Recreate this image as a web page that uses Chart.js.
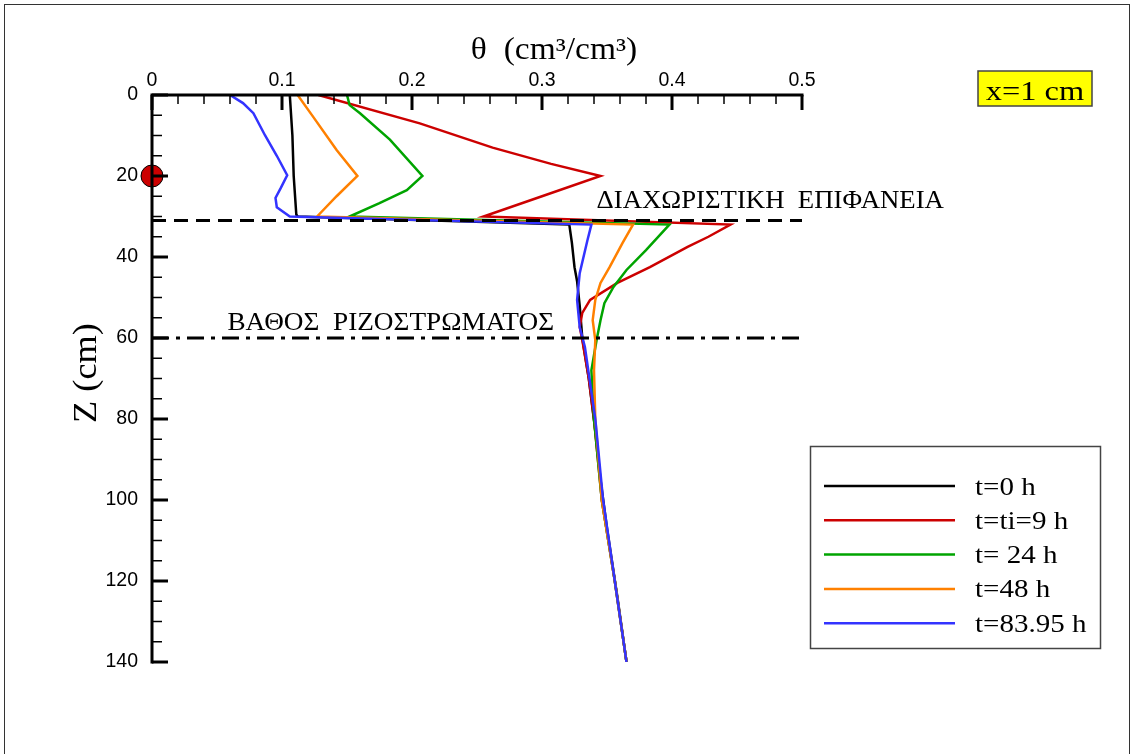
<!DOCTYPE html>
<html>
<head>
<meta charset="utf-8">
<script src="https://cdn.jsdelivr.net/npm/chart.js@4.4.1/dist/chart.umd.min.js"></script>
<style>
    html, body { margin: 0; padding: 0; background: #fff; }
    #wrap { width: 1132px; height: 754px; position: relative; }
</style>
</head>
<body>
<div id="wrap"><canvas id="thetaChart"></canvas></div>
<script>
// profiles of theta (cm3/cm3) against depth Z (cm), x = 1 cm
const seriesLabels = ["t=0 h", "t=ti=9 h", "t= 24 h", "t=48 h", "t=83.95 h"];
const seriesColors = ["#000000", "#cc0000", "#00a400", "#ff8000", "#3333ff"];

const depthT0 = [0, 10, 20, 29.5, 30, 32, 36.5, 42.5, 46, 52, 60, 70, 83, 95, 107, 124, 140];
const thetaT0 = [0.106, 0.108, 0.109, 0.111, 0.112, 0.321, 0.323, 0.325, 0.327, 0.329, 0.331, 0.336, 0.341, 0.345, 0.350, 0.358, 0.365];

const depthT9 = [0, 7, 13, 17, 20, 25, 30, 32, 35, 37.5, 42.5, 46.4, 50.6, 53.8, 57.3, 60.5, 70, 80, 100, 120, 140];
const thetaT9 = [0.128, 0.206, 0.262, 0.307, 0.345, 0.300, 0.255, 0.445, 0.428, 0.412, 0.383, 0.358, 0.337, 0.331, 0.329, 0.331, 0.336, 0.340, 0.346, 0.356, 0.365];

const depthT24 = [0, 2.5, 4.5, 11, 20, 23.5, 26.7, 30, 32, 38.3, 43.2, 47.4, 51.4, 55.6, 60.5, 68, 80, 100, 120, 140];
const thetaT24 = [0.150, 0.152, 0.160, 0.183, 0.208, 0.196, 0.175, 0.152, 0.398, 0.380, 0.365, 0.355, 0.348, 0.345, 0.342, 0.338, 0.340, 0.346, 0.356, 0.365];

const depthT48 = [0, 5.4, 13.6, 20, 25, 30, 32, 36.5, 42.5, 46.4, 50.6, 55.6, 60.5, 68, 80, 100, 120, 140];
const thetaT48 = [0.112, 0.124, 0.142, 0.158, 0.142, 0.127, 0.370, 0.362, 0.352, 0.345, 0.341, 0.339, 0.341, 0.340, 0.341, 0.346, 0.356, 0.365];

const depthT84 = [0, 2, 4.5, 10, 15, 19.8, 23, 25.4, 27.7, 30, 32, 35.8, 44, 50.6, 57.3, 62.2, 80, 100, 120, 140];
const thetaT84 = [0.060, 0.070, 0.078, 0.087, 0.096, 0.104, 0.099, 0.095, 0.096, 0.106, 0.338, 0.335, 0.329, 0.327, 0.329, 0.333, 0.341, 0.347, 0.356, 0.365];

const thetaTicks = [0, 0.1, 0.2, 0.3, 0.4, 0.5];
const depthTicks = [0, 20, 40, 60, 80, 100, 120, 140];

const interfaceDepth = 31;  // ΔΙΑΧΩΡΙΣΤΙΚΗ ΕΠΙΦΑΝΕΙΑ
const rootDepth = 60;       // ΒΑΘΟΣ ΡΙΖΟΣΤΡΩΜΑΤΟΣ
const sourceDepth = 20;     // red marker on the axis

const serif = '"Liberation Serif", "Times New Roman", serif';
const sans = '"Liberation Sans", Arial, sans-serif';

function toPoints(depths, thetas) {
    return depths.map((z, i) => ({ x: thetas[i], y: z }));
}

const profiles = [
    toPoints(depthT0, thetaT0),
    toPoints(depthT9, thetaT9),
    toPoints(depthT24, thetaT24),
    toPoints(depthT48, thetaT48),
    toPoints(depthT84, thetaT84)
];

const datasets = profiles.map((pts, i) => ({
    label: seriesLabels[i],
    data: pts,
    showLine: true,
    borderColor: seriesColors[i],
    borderWidth: 2.5,
    pointRadius: 0,
    tension: 0,
    order: 5 - i  // later curves on top, like the original
}));

// horizontal reference lines
datasets.push({
    label: "interface",
    data: [{ x: thetaTicks[0], y: interfaceDepth }, { x: thetaTicks[thetaTicks.length - 1], y: interfaceDepth }],
    showLine: true, borderColor: "#000", borderWidth: 3, borderDash: [14, 8], pointRadius: 0, order: 0
});
datasets.push({
    label: "root zone",
    data: [{ x: thetaTicks[0], y: rootDepth }, { x: thetaTicks[thetaTicks.length - 1], y: rootDepth }],
    showLine: true, borderColor: "#000", borderWidth: 3, borderDash: [17, 7, 4, 7], pointRadius: 0, order: 0
});
datasets.push({
    label: "source",
    data: [{ x: 0, y: sourceDepth }],
    showLine: false, pointRadius: 11, pointBackgroundColor: "#cc0000",
    pointBorderColor: "#000", pointBorderWidth: 1, clip: false, order: -1
});

// the original's Times text is a bit wider than Liberation Serif, so stretch it
function wideText(ctx, text, x, y, sx) {
    ctx.save();
    ctx.translate(x, y);
    ctx.scale(sx, 1);
    ctx.fillText(text, 0, 0);
    ctx.restore();
}

const decorPlugin = {
    id: 'decor',
    afterDatasetsDraw(chart) {
        const ctx = chart.ctx;
        const xs = chart.scales.x, ys = chart.scales.y;
        const area = chart.chartArea;
        ctx.save();
        ctx.strokeStyle = "#000";

        // axis lines (top and left only)
        ctx.lineWidth = 3;
        ctx.beginPath();
        ctx.moveTo(area.left - 1.5, area.top);
        ctx.lineTo(area.right + 1.5, area.top);
        ctx.moveTo(area.left, area.top);
        ctx.lineTo(area.left, area.bottom + 1.5);
        ctx.stroke();

        // inward ticks, minor every 0.02 and every 5 cm
        for (let k = 0; k <= 25; k++) {
            const px = xs.getPixelForValue(k * 0.02);
            const major = k % 5 === 0;
            ctx.lineWidth = major ? 3 : 1.5;
            ctx.beginPath();
            ctx.moveTo(px, area.top);
            ctx.lineTo(px, area.top + (major ? 15 : 9));
            ctx.stroke();
        }
        for (let z = 0; z <= 140; z += 5) {
            const py = ys.getPixelForValue(z);
            const major = z % 20 === 0;
            ctx.lineWidth = major ? 3 : 1.5;
            ctx.beginPath();
            ctx.moveTo(area.left, py);
            ctx.lineTo(area.left + (major ? 16 : 10), py);
            ctx.stroke();
        }
        ctx.restore();
    },
    afterDraw(chart) {
        const ctx = chart.ctx;
        const xs = chart.scales.x, ys = chart.scales.y;
        const area = chart.chartArea;
        ctx.save();

        // outer frame
        ctx.strokeStyle = "#333";
        ctx.lineWidth = 1;
        ctx.strokeRect(4.5, 4.5, 1125, 800);

        ctx.fillStyle = "#000";
        // axis titles
        ctx.font = "31px " + serif;
        ctx.textAlign = "center";
        ctx.textBaseline = "alphabetic";
        wideText(ctx, "θ  (cm³/cm³)", 554, 59, 1.08);
        ctx.save();
        ctx.translate(96, 373);
        ctx.rotate(-Math.PI / 2);
        ctx.font = "33px " + serif;
        wideText(ctx, "Z (cm)", 0, 0, 1.1);
        ctx.restore();

        // annotations
        ctx.font = "25px " + serif;
        ctx.textAlign = "left";
        wideText(ctx, "ΔΙΑΧΩΡΙΣΤΙΚΗ  ΕΠΙΦΑΝΕΙΑ", xs.getPixelForValue(0.342), ys.getPixelForValue(interfaceDepth) - 13, 1.07);
        wideText(ctx, "ΒΑΘΟΣ  ΡΙΖΟΣΤΡΩΜΑΤΟΣ", xs.getPixelForValue(0.058), ys.getPixelForValue(rootDepth) - 8, 1.09);

        // x=1 cm box
        ctx.fillStyle = "#ffff00";
        ctx.fillRect(978, 71, 114, 35);
        ctx.strokeStyle = "#444";
        ctx.lineWidth = 1.5;
        ctx.strokeRect(978, 71, 114, 35);
        ctx.fillStyle = "#000";
        ctx.font = "27px " + serif;
        ctx.textAlign = "center";
        wideText(ctx, "x=1 cm", 1035, 100, 1.2);

        // legend
        ctx.strokeStyle = "#444";
        ctx.lineWidth = 1.5;
        ctx.strokeRect(810.5, 446.5, 290, 202);
        ctx.font = "25px " + serif;
        ctx.textAlign = "left";
        ctx.textBaseline = "middle";
        seriesLabels.forEach((label, i) => {
            const y = 486 + i * 34.3;
            ctx.strokeStyle = seriesColors[i];
            ctx.lineWidth = 2.5;
            ctx.beginPath();
            ctx.moveTo(824, y);
            ctx.lineTo(955, y);
            ctx.stroke();
            ctx.fillStyle = "#000";
            wideText(ctx, label, 975, y + 2, 1.16);
        });
        ctx.restore();
    }
};

const ctx = document.getElementById('thetaChart').getContext('2d');
new Chart(ctx, {
    type: 'scatter',
    data: { datasets: datasets },
    options: {
        responsive: true,
        maintainAspectRatio: false,
        animation: false,
        layout: { padding: { left: 0, top: 0, right: 330, bottom: 92 } },
        plugins: {
            legend: { display: false },
            tooltip: { enabled: false }
        },
        scales: {
            x: {
                type: 'linear',
                position: 'top',
                min: thetaTicks[0],
                max: thetaTicks[thetaTicks.length - 1],
                grid: { display: false, drawTicks: false },
                border: { display: false },
                afterBuildTicks: s => { s.ticks = thetaTicks.map(v => ({ value: v })); },
                ticks: {
                    color: "#000",
                    font: { family: sans, size: 19.5 },
                    padding: 3,
                    maxRotation: 0,
                    callback: v => String(Math.round(v * 10) / 10)
                },
                afterFit: s => { s.height = 95; }
            },
            y: {
                type: 'linear',
                position: 'left',
                reverse: true,
                min: depthTicks[0],
                max: depthTicks[depthTicks.length - 1],
                grid: { display: false, drawTicks: false },
                border: { display: false },
                afterBuildTicks: s => { s.ticks = depthTicks.map(v => ({ value: v })); },
                ticks: {
                    color: "#000",
                    font: { family: sans, size: 19.5 },
                    padding: 14
                },
                afterFit: s => { s.width = 152; }
            }
        }
    },
    plugins: [decorPlugin]
});
</script>
</body>
</html>
